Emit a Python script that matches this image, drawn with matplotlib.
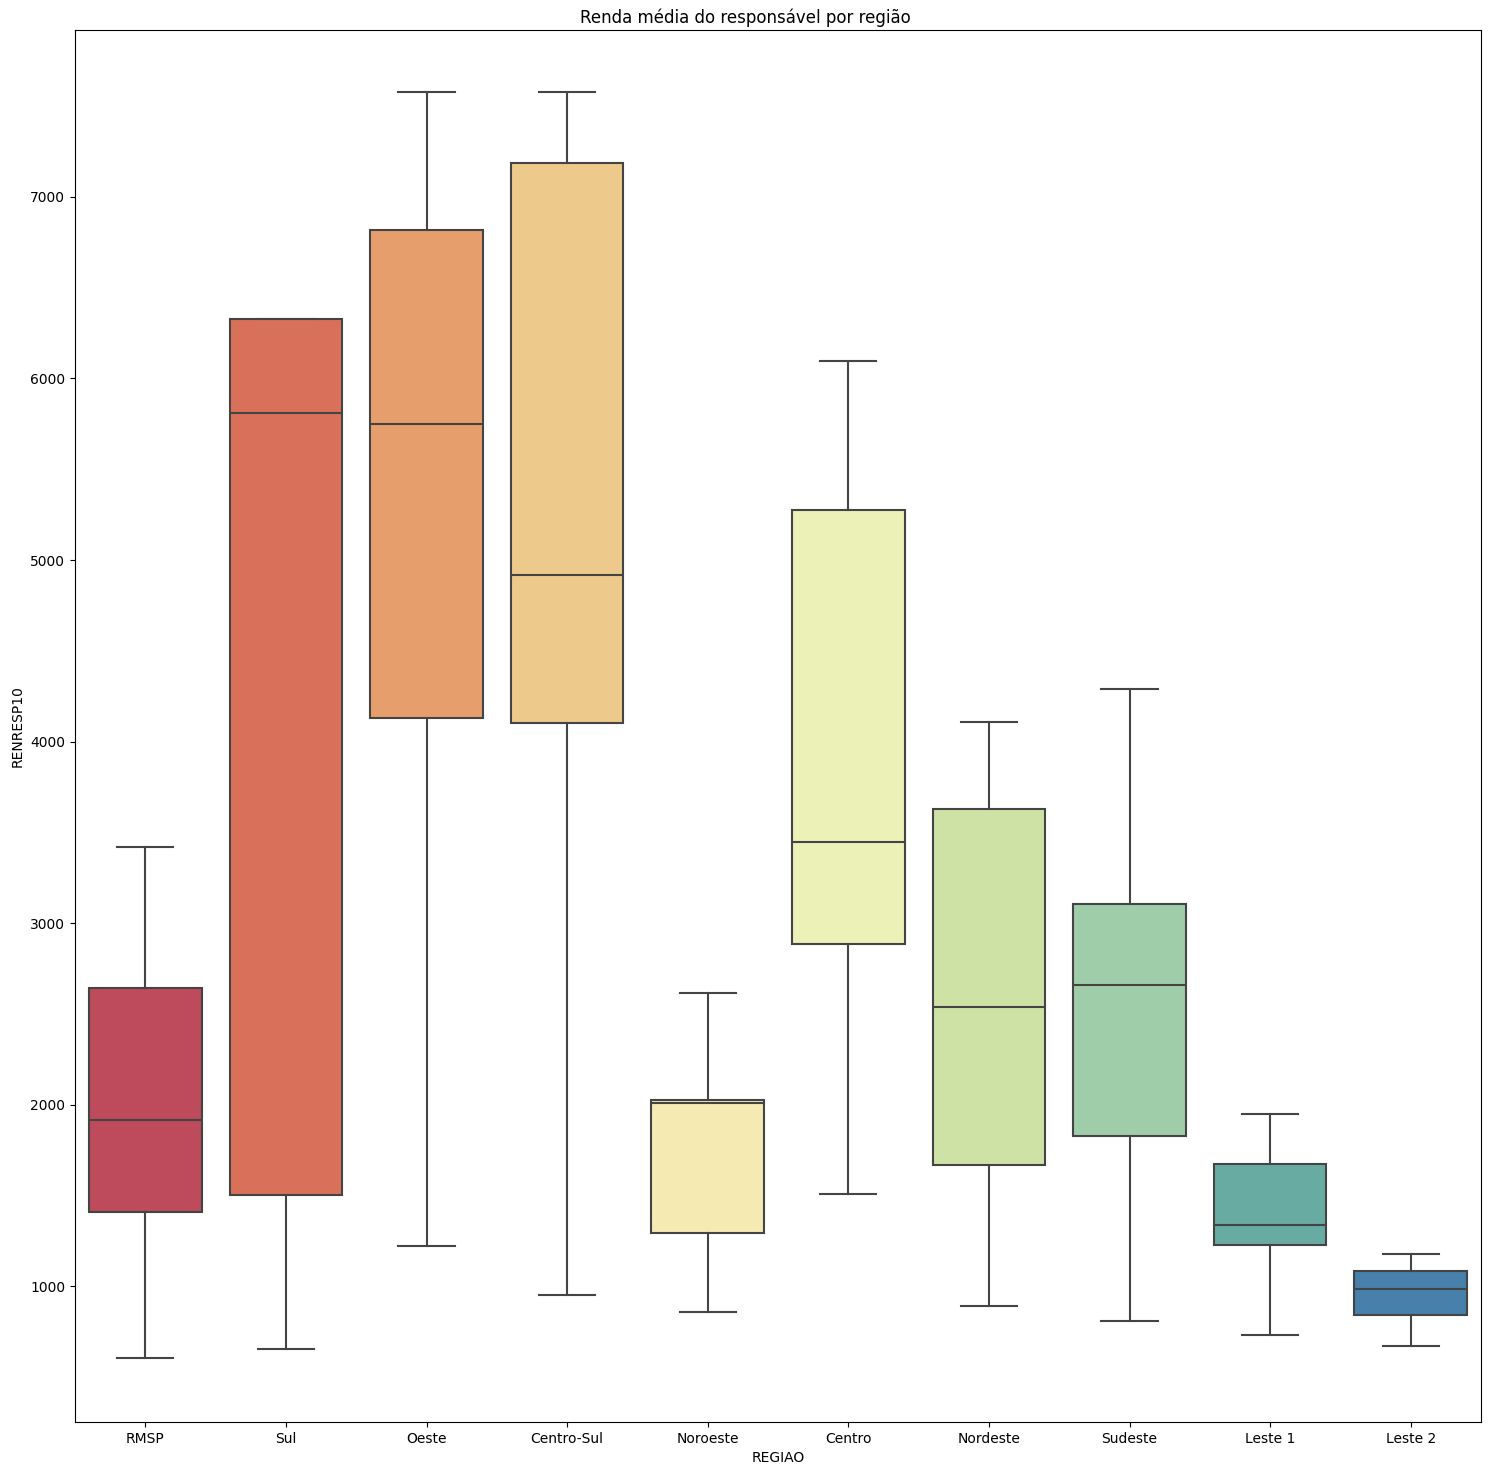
import matplotlib
matplotlib.use("Agg")
import matplotlib.pyplot as plt
import seaborn as sns

regioes = ["RMSP", "Sul", "Oeste", "Centro-Sul", "Noroeste", "Centro",
           "Nordeste", "Sudeste", "Leste 1", "Leste 2"]
whis_lo = [603, 653, 1220, 950, 857, 1507, 890, 807, 730, 669]
q1 = [1408, 1501, 4129, 4102, 1292, 2884, 1667, 1826, 1226, 840]
mediana = [1915, 5810, 5749, 4917, 2010, 3446, 2537, 2658, 1336, 983]
q3 = [2642, 6328, 6818, 7187, 2025, 5275, 3628, 3105, 1672, 1083]
whis_hi = [3419, 6328, 7579, 7579, 2614, 6096, 4107, 4289, 1948, 1176]

stats = []
for i, r in enumerate(regioes):
    stats.append(dict(label=r, whislo=whis_lo[i], q1=q1[i], med=mediana[i],
                      q3=q3[i], whishi=whis_hi[i], fliers=[]))

pal = [sns.desaturate(c, 0.75) for c in sns.color_palette("Spectral", len(regioes))]
gray = "#444444"

fig = plt.figure(figsize=(14.9, 14.75), dpi=100)
ax = fig.add_axes([75/1490, 1-1422/1475, (1481-75)/1490, (1422-30)/1475])
bp = ax.bxp(stats, positions=range(len(regioes)), widths=0.8, patch_artist=True,
            showfliers=False,
            boxprops=dict(edgecolor=gray, linewidth=1.5),
            medianprops=dict(color=gray, linewidth=1.5),
            whiskerprops=dict(color=gray, linewidth=1.5),
            capprops=dict(color=gray, linewidth=1.5))
for patch, c in zip(bp["boxes"], pal):
    patch.set_facecolor(c)
ax.set_xlim(-0.5, len(regioes) - 0.5)
ax.set_ylim(251, 7920)
ax.set_xticks(range(len(regioes)))
ax.set_xticklabels(regioes)
ax.set_xlabel("REGIAO")
ax.set_ylabel("RENRESP10")
fig.text(0.5, 1 - 18/1475, "Renda média do responsável por região",
         ha="center", va="center", fontsize=12)
fig.savefig("out.png", dpi=100)
